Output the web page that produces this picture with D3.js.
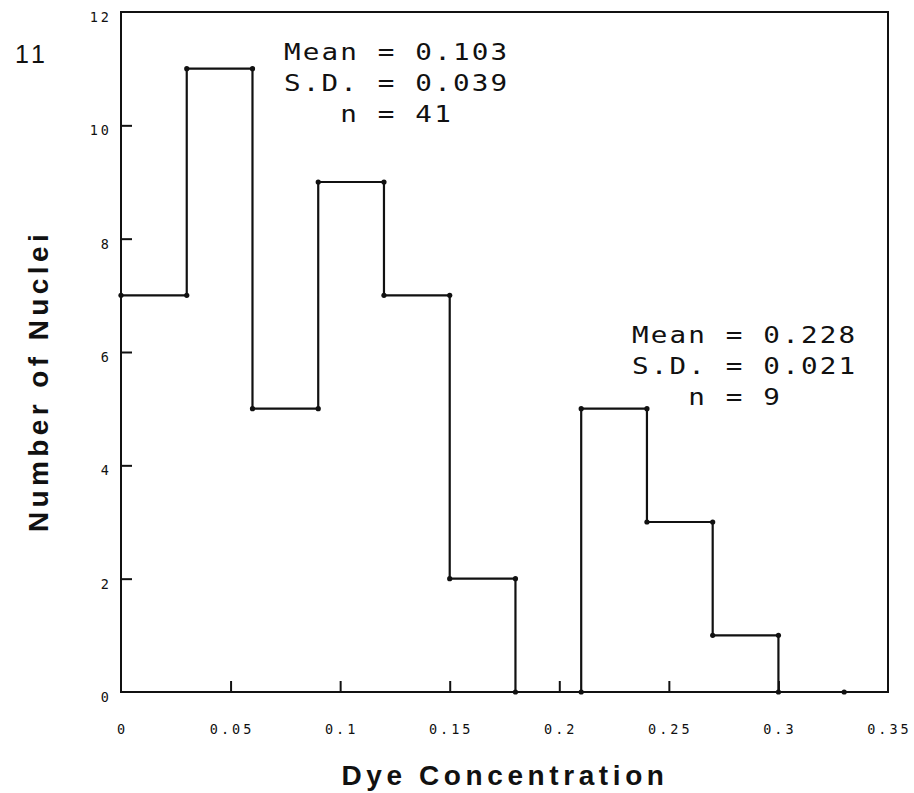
<!DOCTYPE html>
<html>
<head>
<meta charset="utf-8">
<script src="https://cdn.jsdelivr.net/npm/d3@7"></script>
<style>
  html, body { margin: 0; padding: 0; background: #fff; }
  svg { display: block; }
  text { white-space: pre; }
</style>
</head>
<body>
<svg id="chart" width="914" height="793"></svg>
<script>
// Histogram of nuclear dye concentration (bin width 0.03)
const binEdges = [0, 0.03, 0.06, 0.09, 0.12, 0.15, 0.18, 0.21, 0.24, 0.27, 0.30, 0.33];
const counts   = [7, 11, 5, 9, 7, 2, 0, 5, 3, 1, 0];

const xTicks = [0, 0.05, 0.1, 0.15, 0.2, 0.25, 0.3, 0.35];
const xTickLabels = ["0", "0.05", "0.1", "0.15", "0.2", "0.25", "0.3", "0.35"];
const yTicks = [0, 2, 4, 6, 8, 10, 12];
const yTickLabels = ["0", "2", "4", "6", "8", "10", "12"];

const statsLow  = ["Mean = 0.103", "S.D. = 0.039", "   n = 41"];
const statsHigh = ["Mean = 0.228", "S.D. = 0.021", "   n = 9"];

const figureNumber = "11";
const xTitle = "Dye Concentration";
const yTitle = "Number of Nuclei";

const svg = d3.select("#chart");
const ink = "#111";

const x = d3.scaleLinear().domain([0, 0.35]).range([121, 888]);
const y = d3.scaleLinear().domain([0, 12]).range([692, 12]);

// Plot frame
svg.append("rect")
  .attr("x", x(0)).attr("y", y(12))
  .attr("width", x(0.35) - x(0)).attr("height", y(0) - y(12))
  .attr("fill", "none").attr("stroke", ink).attr("stroke-width", 2);

// Inward ticks
const xAxis = d3.axisTop(x).tickValues(xTicks.slice(1, -1)).tickSize(11).tickFormat("");
svg.append("g").attr("transform", `translate(0,${y(0)})`).call(xAxis)
  .call(g => g.select(".domain").remove())
  .selectAll("line").attr("stroke", ink).attr("stroke-width", 2);

const yAxis = d3.axisRight(y).tickValues(yTicks.slice(1, -1)).tickSize(11).tickFormat("");
svg.append("g").attr("transform", `translate(${x(0)},0)`).call(yAxis)
  .call(g => g.select(".domain").remove())
  .selectAll("line").attr("stroke", ink).attr("stroke-width", 2);

// Tick labels (plotter-style monospaced digits)
const tickFont = "'DejaVu Sans Mono', monospace";
svg.append("g").selectAll("text").data(xTicks).join("text")
  .attr("x", d => x(d) + 1.5)
  .attr("y", 734)
  .attr("text-anchor", "middle")
  .attr("font-family", tickFont).attr("font-size", 13.5)
  .attr("letter-spacing", 3)
  .attr("fill", ink)
  .text((d, i) => xTickLabels[i]);

svg.append("g").selectAll("text").data(yTicks).join("text")
  .attr("x", 112)
  .attr("y", d => y(d) + 10)
  .attr("text-anchor", "end")
  .attr("font-family", tickFont).attr("font-size", 13.5)
  .attr("letter-spacing", 3)
  .attr("fill", ink)
  .text((d, i) => yTickLabels[i]);

// Step outline of the histogram
const pts = [];
counts.forEach((c, i) => {
  pts.push([binEdges[i], c]);
  pts.push([binEdges[i + 1], c]);
});
const line = d3.line().x(d => x(d[0])).y(d => y(d[1]));
svg.append("path")
  .attr("d", line(pts))
  .attr("fill", "none").attr("stroke", ink)
  .attr("stroke-width", 2.2).attr("stroke-linejoin", "miter");

svg.append("g").selectAll("circle").data(pts).join("circle")
  .attr("cx", d => x(d[0])).attr("cy", d => y(d[1]))
  .attr("r", 2.6).attr("fill", ink);

// Summary statistics, in a wide monospaced face
const monoFont = "'DejaVu Sans Mono', monospace";
const stretch = 1.2;
function stats(lines, left, baseline) {
  const g = svg.append("g")
    .attr("transform", `translate(${left},${baseline}) scale(${stretch},1)`);
  g.selectAll("text").data(lines).join("text")
    .attr("x", 0)
    .attr("y", (d, i) => i * 31)
    .attr("font-family", monoFont).attr("font-size", 23)
    .attr("letter-spacing", 1.8)
    .attr("fill", ink)
    .text(d => d);
}
stats(statsLow, 284, 60);
stats(statsHigh, 632, 343);

// Figure number
svg.append("text")
  .attr("x", 15).attr("y", 63)
  .attr("font-family", "'Liberation Sans', Arial, sans-serif")
  .attr("font-size", 25).attr("letter-spacing", 4)
  .attr("fill", ink)
  .text(figureNumber);

// Axis titles
svg.append("text")
  .attr("x", 505).attr("y", 785)
  .attr("text-anchor", "middle")
  .attr("font-family", "'Liberation Sans', Arial, sans-serif")
  .attr("font-weight", "bold").attr("font-size", 28)
  .attr("letter-spacing", 4.6)
  .attr("fill", ink)
  .text(xTitle);

svg.append("text")
  .attr("transform", "translate(48,381) rotate(-90)")
  .attr("text-anchor", "middle")
  .attr("font-family", "'Liberation Sans', Arial, sans-serif")
  .attr("font-weight", "bold").attr("font-size", 28)
  .attr("letter-spacing", 4.4)
  .attr("fill", ink)
  .text(yTitle);
</script>
</body>
</html>
